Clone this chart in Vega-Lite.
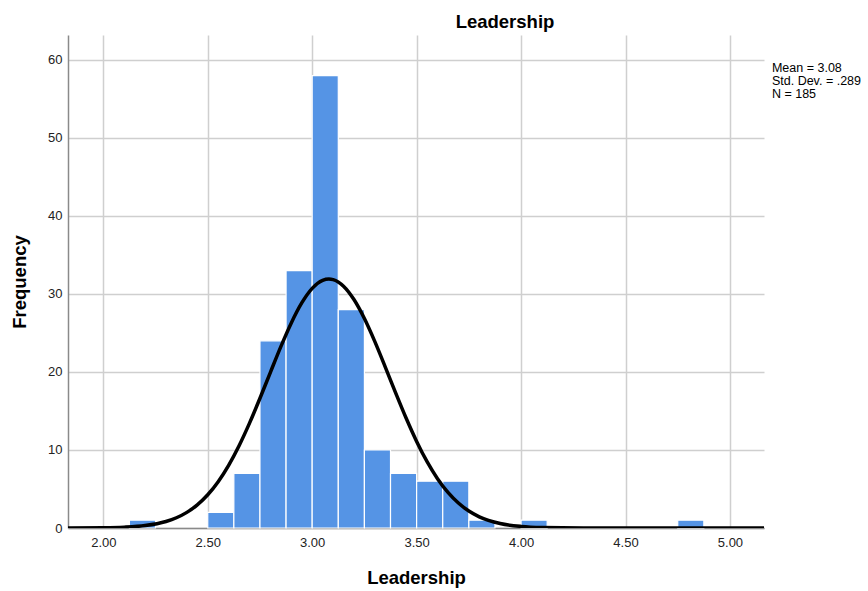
{
  "$schema": "https://vega.github.io/schema/vega-lite/v6.json",
  "width": 696,
  "height": 493,
  "autosize": {"type": "none"},
  "padding": {"left": 68, "top": 35, "right": 104, "bottom": 63},
  "background": "white",
  "title": {
    "text": "Leadership",
    "font": "Liberation Sans",
    "fontSize": 18.5,
    "fontWeight": "bold",
    "color": "#000000",
    "anchor": "middle",
    "dx": 89,
    "offset": 4
  },
  "config": {
    "view": {"stroke": null},
    "font": "Liberation Sans",
    "axis": {
      "grid": true,
      "gridColor": "#cfcfcf",
      "gridWidth": 1.5,
      "domainColor": "#8a8a8a",
      "domainWidth": 1.5,
      "ticks": false,
      "labelFont": "Liberation Sans",
      "labelFontSize": 13,
      "labelColor": "#222222",
      "titleFont": "Liberation Sans",
      "titleFontSize": 18.5,
      "titleFontWeight": "bold",
      "titleColor": "#000000"
    }
  },
  "datasets": {
    "bins": [
      {"bin_start": 2.125, "bin_end": 2.25, "count": 1},
      {"bin_start": 2.5, "bin_end": 2.625, "count": 2},
      {"bin_start": 2.625, "bin_end": 2.75, "count": 7},
      {"bin_start": 2.75, "bin_end": 2.875, "count": 24},
      {"bin_start": 2.875, "bin_end": 3.0, "count": 33},
      {"bin_start": 3.0, "bin_end": 3.125, "count": 58},
      {"bin_start": 3.125, "bin_end": 3.25, "count": 28},
      {"bin_start": 3.25, "bin_end": 3.375, "count": 10},
      {"bin_start": 3.375, "bin_end": 3.5, "count": 7},
      {"bin_start": 3.5, "bin_end": 3.625, "count": 6},
      {"bin_start": 3.625, "bin_end": 3.75, "count": 6},
      {"bin_start": 3.75, "bin_end": 3.875, "count": 1},
      {"bin_start": 4.0, "bin_end": 4.125, "count": 1},
      {"bin_start": 4.75, "bin_end": 4.875, "count": 1}
    ],
    "normal": [
      {"score": 1.831, "density": 0.003},
      {"score": 2.0, "density": 0.030},
      {"score": 2.1, "density": 0.102},
      {"score": 2.2, "density": 0.310},
      {"score": 2.3, "density": 0.836},
      {"score": 2.35, "density": 1.313},
      {"score": 2.4, "density": 2.004},
      {"score": 2.45, "density": 2.966},
      {"score": 2.5, "density": 4.260},
      {"score": 2.55, "density": 5.939},
      {"score": 2.6, "density": 8.036},
      {"score": 2.65, "density": 10.552},
      {"score": 2.7, "density": 13.447},
      {"score": 2.75, "density": 16.631},
      {"score": 2.8, "density": 19.962},
      {"score": 2.85, "density": 23.256},
      {"score": 2.9, "density": 26.292},
      {"score": 2.95, "density": 28.848},
      {"score": 3.0, "density": 30.720},
      {"score": 3.05, "density": 31.749},
      {"score": 3.08, "density": 31.920},
      {"score": 3.1, "density": 31.844},
      {"score": 3.15, "density": 30.997},
      {"score": 3.2, "density": 29.283},
      {"score": 3.25, "density": 26.849},
      {"score": 3.3, "density": 23.890},
      {"score": 3.35, "density": 20.630},
      {"score": 3.4, "density": 17.290},
      {"score": 3.45, "density": 14.065},
      {"score": 3.5, "density": 11.103},
      {"score": 3.55, "density": 8.506},
      {"score": 3.6, "density": 6.325},
      {"score": 3.65, "density": 4.564},
      {"score": 3.7, "density": 3.196},
      {"score": 3.75, "density": 2.172},
      {"score": 3.8, "density": 1.433},
      {"score": 3.9, "density": 0.570},
      {"score": 4.0, "density": 0.201},
      {"score": 4.1, "density": 0.063},
      {"score": 4.3, "density": 0.004},
      {"score": 4.6, "density": 0.0},
      {"score": 5.163, "density": 0.0}
    ],
    "stats": [
      {"label": "Mean = 3.08\nStd. Dev. = .289\nN = 185"}
    ]
  },
  "layer": [
    {
      "data": {"name": "bins"},
      "mark": {"type": "rect", "fill": "#5594e5", "stroke": "#ffffff", "strokeWidth": 1.2},
      "encoding": {
        "x": {
          "field": "bin_start",
          "type": "quantitative",
          "scale": {"domain": [1.831, 5.163], "nice": false, "zero": false},
          "axis": {
            "values": [2, 2.5, 3, 3.5, 4, 4.5, 5],
            "format": ".2f",
            "labelPadding": 8,
            "title": "Leadership",
            "titlePadding": 19
          }
        },
        "x2": {"field": "bin_end"},
        "y": {
          "field": "count",
          "type": "quantitative",
          "scale": {"domain": [0, 63.2], "nice": false},
          "axis": {
            "values": [0, 10, 20, 30, 40, 50, 60],
            "labelPadding": 6,
            "title": "Frequency",
            "titlePadding": 18
          }
        },
        "y2": {"datum": 0}
      }
    },
    {
      "data": {"name": "normal"},
      "mark": {"type": "line", "color": "#000000", "strokeWidth": 3.5, "interpolate": "monotone", "clip": true},
      "encoding": {
        "x": {"field": "score", "type": "quantitative"},
        "y": {"field": "density", "type": "quantitative"}
      }
    },
    {
      "data": {"name": "stats"},
      "mark": {
        "type": "text",
        "align": "left",
        "baseline": "top",
        "lineBreak": "\n",
        "lineHeight": 12.8,
        "font": "Liberation Sans",
        "fontSize": 12.5,
        "color": "#000000"
      },
      "encoding": {
        "x": {"datum": 5.201, "type": "quantitative"},
        "y": {"datum": 59.7, "type": "quantitative"},
        "text": {"field": "label"}
      }
    }
  ]
}
